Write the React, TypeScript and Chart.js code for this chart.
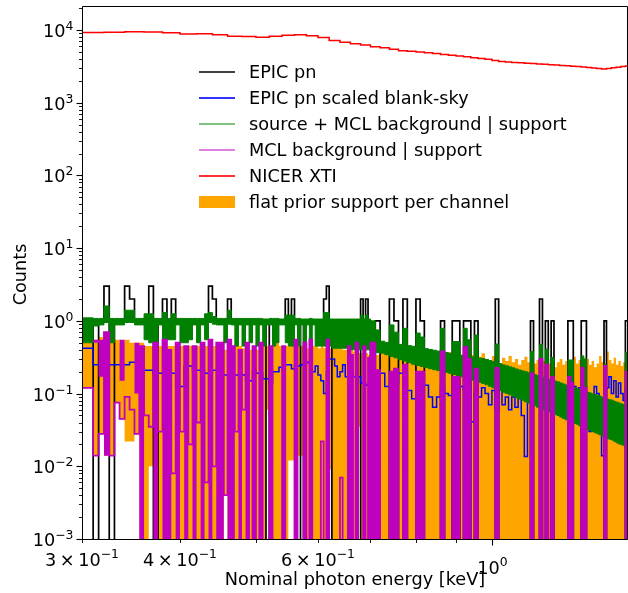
import React, { useEffect, useRef } from "react";
import { Chart, registerables } from "chart.js";

Chart.register(...registerables);

// ---------------- channel grids (keV) ----------------
const FINE_START = 0.3;
const FINE_STEP = 0.005;
const FINE_COUNT = 80; // 0.300 - 0.700
const COARSE_STEP = 0.01;
const COARSE_COUNT = 79; // 0.70 - 1.49
const NICER_START = 0.3;
const NICER_STEP = 0.02;

const X_MIN = 0.3;
const X_MAX = 1.4914;
const Y_MIN = 1e-3;
const Y_MAX = 21400;

// ---------------- data ----------------
// EPIC pn counts per channel
const EPIC_COUNTS = [
  1, 1, 0, 1, 3, 0, 1, 1, 3, 2, 1, 1, 1, 3, 0, 1, 2, 1, 2, 1,
  1, 1, 1, 1, 1, 1, 1, 3, 2, 1, 1, 1, 2, 1, 1, 1, 1, 1, 1, 1,
  1, 1, 1, 0, 1, 1, 1, 1, 1, 2, 1, 2, 1, 1, 0, 1, 1, 1, 1, 1,
  1, 1, 2, 3, 0, 1, 1, 1, 1, 1, 1, 1, 1, 1, 1, 0, 2, 1, 2, 1,
  0, 1, 0, 0, 2, 1, 0, 2, 0, 0, 2, 1, 0, 0, 0, 0, 1, 0, 0, 1,
  1, 0, 1, 1, 0, 1, 0, 0, 0, 0, 0, 2, 0, 0, 0, 0, 0, 0, 0, 0,
  0, 0, 1, 0, 0, 2, 0, 1, 0, 1, 0, 0, 0, 0, 0, 1, 1, 0, 0, 0,
  1, 1, 0, 0, 0, 0, 0, 0, 0, 1, 0, 0, 0, 0, 0, 0, 0, 0, 1,
];

// EPIC pn scaled blank-sky
const BLANK_SKY = [
  0.42, 0.42, 0.25, 0.25, 0.25, 0.25, 0.25, 0.25, 0.25, 0.27,
  0.27, 0.25, 0.21, 0.21, 0.19, 0.19, 0.19, 0.19, 0.19, 0.125,
  0.125, 0.24, 0.24, 0.21, 0.21, 0.21, 0.19, 0.19, 0.21, 0.21,
  0.18, 0.18, 0.18, 0.18, 0.18, 0.18, 0.18, 0.15, 0.15, 0.21,
  0.19, 0.19, 0.16, 0.16, 0.14, 0.2, 0.2, 0.23, 0.21, 0.25,
  0.25, 0.22, 0.24, 0.24, 0.25, 0.25, 0.27, 0.26, 0.2, 0.24,
  0.18, 0.15, 0.1, 0.2, 0.3, 0.3, 0.24, 0.17, 0.2, 0.25,
  0.17, 0.25, 0.2, 0.17, 0.17, 0.17, 0.14, 0.14, 0.13, 0.13,
  0.13, 0.125, 0.19, 0.125, 0.125, 0.14, 0.19, 0.19, 0.11, 0.085,
  0.08, 0.18, 0.13, 0.09, 0.065, 0.09, 0.125, 0.1, 0.094, 0.094,
  0.1, 0.125, 0.11, 0.125, 0.041, 0.11, 0.09, 0.12, 0.1, 0.07,
  0.11, 0.06, 0.12, 0.07, 0.09, 0.06, 0.09, 0.065, 0.1, 0.05,
  0.0136, 0.1, 0.14, 0.09, 0.12, 0.07, 0.11, 0.09, 0.15, 0.08,
  0.14, 0.1, 0.055, 0.08, 0.11, 0.09, 0.11, 0.125, 0.1, 0.12,
  0.09, 0.125, 0.1, 0.03, 0.05, 0.125, 0.1, 0.06, 0.014, 0.09,
  0.12, 0.17, 0.1, 0.15, 0.09, 0.14, 0.1, 0.08, 0.12,
];

// source + MCL background | support : upper and lower envelope
const SRC_MCL_HIGH = [
  1.1, 1.1, 1.08, 1.08, 1.6, 1.08, 1.08, 1.08, 1.4, 1.4,
  1.08, 1.08, 1.25, 1.25, 1.08, 1.08, 1.3, 1.08, 1.25, 1.08,
  1.08, 1.08, 1.08, 1.08, 1.08, 1.08, 1.25, 1.3, 1.15, 1.08,
  1.08, 1.08, 1.4, 1.08, 1.08, 1.08, 1.08, 1.08, 1.08, 1.08,
  1.08, 1.08, 1.06, 1.06, 1.08, 1.08, 1.08, 1.06, 1.06, 1.2,
  1.2, 1.2, 1.08, 1.08, 1.06, 1.06, 1.06, 1.08, 1.06, 1.06,
  1.06, 1.06, 1.3, 1.3, 1.06, 1.06, 1.06, 1.06, 1.06, 1.06,
  1.06, 1.06, 1.06, 1.06, 1.06, 1.06, 1.2, 1.06, 1.2, 1.06,
  1.0, 0.75, 0.525, 0.506, 0.88, 0.7, 0.475, 0.79, 0.456, 0.447,
  0.68, 0.6, 0.415, 0.404, 0.394, 0.384, 0.79, 0.368, 0.359, 0.52,
  0.52, 0.337, 0.79, 0.55, 0.318, 0.64, 0.308, 0.303, 0.294, 0.285,
  0.274, 0.48, 0.258, 0.248, 0.241, 0.233, 0.226, 0.218, 0.211, 0.205,
  0.2, 0.193, 0.38, 0.182, 0.177, 0.47, 0.167, 0.41, 0.157, 0.315,
  0.149, 0.145, 0.14, 0.1355, 0.131, 0.29, 0.29, 0.12, 0.118, 0.114,
  0.33, 0.3, 0.1045, 0.102, 0.099, 0.097, 0.094, 0.092, 0.089, 0.25,
  0.084, 0.082, 0.081, 0.078, 0.076, 0.074, 0.072, 0.071, 0.37,
];
const SRC_MCL_LOW = [
  0.5, 0.5, 0.85, 0.88, 0.95, 0.5, 0.88, 0.88, 0.95, 0.95,
  0.88, 0.88, 0.55, 0.5, 0.5, 0.88, 0.55, 0.55, 0.55, 0.88,
  0.5, 0.5, 0.55, 0.88, 0.5, 0.88, 0.55, 0.95, 0.9, 0.88,
  0.88, 0.5, 0.9, 0.88, 0.45, 0.88, 0.45, 0.88, 0.5, 0.88,
  0.45, 0.88, 0.45, 0.88, 0.88, 0.45, 0.5, 0.88, 0.88, 0.5,
  0.45, 0.45, 0.88, 0.45, 0.88, 0.45, 0.88, 0.45, 0.88, 0.45,
  0.45, 0.45, 0.45, 0.45, 0.45, 0.42, 0.42, 0.42, 0.42, 0.42,
  0.42, 0.42, 0.4, 0.4, 0.4, 0.4, 0.4, 0.4, 0.4, 0.4,
  0.37, 0.365, 0.36, 0.343, 0.324, 0.31, 0.293, 0.28, 0.265, 0.253,
  0.244, 0.236, 0.229, 0.22, 0.213, 0.207, 0.201, 0.196, 0.19, 0.183,
  0.176, 0.17, 0.164, 0.158, 0.153, 0.148, 0.143, 0.138, 0.132, 0.126,
  0.12, 0.115, 0.11, 0.1045, 0.1, 0.096, 0.092, 0.088, 0.084, 0.081,
  0.077, 0.074, 0.071, 0.068, 0.065, 0.063, 0.06, 0.058, 0.056, 0.053,
  0.052, 0.05, 0.0475, 0.0455, 0.0436, 0.0424, 0.0405, 0.039, 0.038, 0.036,
  0.035, 0.034, 0.032, 0.031, 0.03, 0.029, 0.028, 0.027, 0.026, 0.025,
  0.024, 0.0236, 0.023, 0.022, 0.021, 0.0203, 0.0198, 0.0193, 0.0184,
];

// MCL background | support : outline line, and solid (dense) part
const MCL_LINE = [
  0.12, 0.12, 0.014, 0.028, 0.7, 0.014, 0.075, 0.045, 0.09, 0.06,
  0.028, 0.45, 0.05, 0.035, 0.5, 0.03, 0.55, 0.4, 0.008, 0.5,
  0.03, 0.45, 0.02, 0.45, 0.04, 0.5, 0.006, 0.55, 0.01, 0.5,
  0.5, 0.004, 0.55, 0.45, 0.03, 0.4, 0.06, 0.5, 0, 0.45,
  0, 0.5, 0, 0, 0.45, 0, 0, 0, 0.45, 0,
  0, 0, 0.55, 0, 0, 0.5, 0, 0.55, 0, 0,
  0, 0.022, 0, 0.55, 0, 0, 0, 0, 0.007, 0,
  0, 0.45, 0.34, 0, 0.5, 0, 0, 0.45, 0, 0.31,
  0.5, 0.21, 0, 0, 0.2, 0.22, 0, 0.25, 0, 0,
  0.2, 0.2, 0, 0, 0, 0, 0.38, 0, 0, 0.17,
  0.17, 0, 0.44, 0.3, 0, 0.22, 0, 0, 0, 0,
  0, 0.225, 0, 0, 0, 0, 0, 0, 0, 0,
  0, 0, 0.19, 0, 0, 0.3, 0, 0.25, 0, 0.17,
  0, 0, 0, 0, 0, 0.17, 0.14, 0, 0, 0,
  0.225, 0.12, 0, 0, 0, 0, 0, 0, 0, 0.24,
  0, 0, 0, 0, 0, 0, 0, 0, 0.2,
];
const MCL_SOLID_HIGH = [
  0, 0, 0.55, 0.55, 0.7, 0, 0, 0.55, 0, 0,
  0.5, 0.45, 0, 0, 0.5, 0, 0.55, 0.4, 0, 0.5,
  0, 0.45, 0, 0.45, 0, 0.5, 0, 0.55, 0, 0.5,
  0.5, 0, 0.55, 0.45, 0, 0.4, 0, 0.5, 0, 0.45,
  0, 0.5, 0, 0, 0.45, 0, 0, 0, 0.45, 0,
  0, 0, 0.55, 0, 0, 0.5, 0, 0.55, 0, 0,
  0, 0, 0, 0.55, 0, 0, 0, 0, 0, 0,
  0, 0.45, 0.34, 0, 0.5, 0, 0, 0.45, 0, 0.31,
  0.5, 0.21, 0, 0, 0.2, 0.22, 0, 0.25, 0, 0,
  0.2, 0.2, 0, 0, 0, 0, 0.38, 0, 0, 0.17,
  0.17, 0, 0.44, 0.3, 0, 0.22, 0, 0, 0, 0,
  0, 0.225, 0, 0, 0, 0, 0, 0, 0, 0,
  0, 0, 0.19, 0, 0, 0.3, 0, 0.25, 0, 0.17,
  0, 0, 0, 0, 0, 0.17, 0.14, 0, 0, 0,
  0.225, 0.12, 0, 0, 0, 0, 0, 0, 0, 0.24,
  0, 0, 0, 0, 0, 0, 0, 0, 0.2,
];
const MCL_SOLID_LOW = [
  0, 0, 0.5, 0.17, 0.014, 0, 0, 0.15, 0, 0,
  0.1, 0, 0, 0, 0, 0, 0, 0, 0, 0,
  0, 0, 0, 0, 0, 0, 0, 0, 0, 0,
  0, 0, 0, 0, 0, 0, 0, 0, 0, 0,
  0, 0, 0, 0, 0, 0, 0, 0, 0, 0,
  0, 0, 0, 0, 0, 0, 0, 0, 0, 0,
  0, 0, 0, 0, 0, 0, 0, 0, 0, 0,
  0, 0, 0, 0, 0, 0, 0, 0, 0, 0,
  0, 0, 0, 0, 0, 0, 0, 0, 0, 0,
  0, 0, 0, 0, 0, 0, 0, 0, 0, 0,
  0, 0, 0, 0, 0, 0, 0, 0, 0, 0,
  0, 0, 0, 0, 0, 0, 0, 0, 0, 0,
  0, 0, 0, 0, 0, 0, 0, 0, 0, 0,
  0, 0, 0, 0, 0, 0, 0, 0, 0, 0,
  0, 0, 0, 0, 0, 0, 0, 0, 0, 0,
  0, 0, 0, 0, 0, 0, 0, 0, 0,
];

// flat prior support per channel : upper / lower bound
const PRIOR_HIGH = [
  0.5, 0.5, 0.55, 0.6, 0.7, 0.55, 0.55, 0.5, 0.55, 0.5,
  0.5, 0.5, 0.45, 0.45, 0.45, 0.45, 0.5, 0.45, 0.45, 0.45,
  0.45, 0.45, 0.45, 0.4, 0.45, 0.45, 0.45, 0.45, 0.45, 0.45,
  0.45, 0.4, 0.45, 0.4, 0.45, 0.45, 0.42, 0.42, 0.4, 0.42,
  0.4, 0.45, 0.5, 0.45, 0.45, 0.5, 0.55, 0.45, 0.45, 0.45,
  0.45, 0.5, 0.5, 0.45, 0.45, 0.45, 0.42, 0.5, 0.45, 0.45,
  0.42, 0.45, 0.42, 0.45, 0.42, 0.42, 0.45, 0.42, 0.42, 0.4,
  0.4, 0.45, 0.4, 0.38, 0.38, 0.36, 0.36, 0.36, 0.36, 0.34,
  0.38, 0.34, 0.4, 0.36, 0.33, 0.38, 0.35, 0.31, 0.37, 0.34,
  0.3, 0.36, 0.33, 0.38, 0.32, 0.35, 0.3, 0.34, 0.37, 0.31,
  0.33, 0.29, 0.35, 0.31, 0.34, 0.28, 0.32, 0.36, 0.3, 0.27,
  0.33, 0.29, 0.26, 0.31, 0.28, 0.33, 0.27, 0.3, 0.25, 0.29,
  0.32, 0.27, 0.3, 0.26, 0.29, 0.24, 0.28, 0.31, 0.26, 0.29,
  0.23, 0.27, 0.3, 0.25, 0.28, 0.24, 0.27, 0.32, 0.26, 0.29,
  0.24, 0.27, 0.3, 0.25, 0.28, 0.23, 0.26, 0.33, 0.27, 0.24,
  0.38, 0.29, 0.26, 0.31, 0.25, 0.28, 0.24, 0.27, 0.23,
];
const PRIOR_LOW = [
  0.12, 0.12, 0.014, 0.028, 0.014, 0.014, 0.075, 0.045, 0.022, 0.022,
  0.028, 0, 0, 0.01, 0, 0, 0, 0, 0, 0,
  0, 0, 0, 0, 0, 0, 0, 0, 0, 0,
  0, 0.004, 0, 0, 0, 0, 0, 0, 0, 0,
  0, 0, 0, 0.06, 0, 0, 0, 0, 0, 0,
  0.012, 0.012, 0, 0.014, 0.014, 0, 0, 0, 0, 0,
  0, 0, 0, 0, 0.009, 0, 0, 0, 0, 0,
  0, 0, 0, 0, 0, 0.035, 0, 0, 0, 0,
  0, 0, 0, 0, 0, 0, 0, 0, 0, 0,
  0, 0, 0, 0, 0, 0, 0, 0, 0, 0,
  0, 0, 0, 0, 0, 0, 0, 0, 0, 0,
  0, 0, 0, 0, 0, 0, 0, 0, 0, 0,
  0, 0, 0, 0, 0, 0, 0, 0, 0, 0,
  0, 0, 0, 0, 0, 0, 0, 0, 0, 0,
  0, 0, 0, 0, 0, 0, 0, 0, 0, 0,
  0, 0, 0, 0, 0, 0, 0, 0, 0,
];

// NICER XTI counts (20 eV channels from 0.30 keV)
const NICER_COUNTS = [
  9240, 9300, 9470, 9400, 9200, 8800, 8900, 8600, 8200, 8150,
  7950, 8200, 8500, 8600, 8350, 7900, 7200, 6800, 6500, 6200,
  5900, 5700, 5450, 5200, 5100, 5000, 4850, 4750, 4620, 4500,
  4400, 4280, 4150, 4050, 3950, 3800, 3680, 3620, 3580, 3540,
  3500, 3470, 3420, 3380, 3330, 3300, 3250, 3220, 3180, 3140,
  3100, 3050, 3000, 2950, 2900, 2950, 3020, 3080, 3150, 3200,
];

// ticks / labels
const Y_EXPONENTS = [-3, -2, -1, 0, 1, 2, 3, 4];
const X_MINOR_TICKS = [0.3, 0.4, 0.5, 0.6, 0.7, 0.8, 0.9];
const X_MAJOR_TICKS = [1.0];
const X_MINOR_LABELS = [
  { value: 0.3, mant: "3" },
  { value: 0.4, mant: "4" },
  { value: 0.6, mant: "6" },
];

const LEGEND_ITEMS = [
  { label: "EPIC pn", color: "#000000", kind: "line", width: 1.6 },
  { label: "EPIC pn scaled blank-sky", color: "#3333ff", kind: "line", width: 2 },
  { label: "source + MCL background | support", color: "#7fbf7f", kind: "line", width: 2 },
  { label: "MCL background | support", color: "#bf00bf", kind: "line", width: 1 },
  { label: "NICER XTI", color: "#ff3333", kind: "line", width: 2 },
  { label: "flat prior support per channel", color: "#ffa500", kind: "patch", width: 0 },
];

// ---------------- helpers ----------------
const FLOOR = 1e-7;
const FONT = '"DejaVu Sans", "Liberation Sans", sans-serif';
const BASE_PX = 17.7;
const SUP_PX = 12.4;
const SUP_RAISE = 7.5;

function buildEdges(): number[] {
  const e: number[] = [];
  for (let i = 0; i <= FINE_COUNT; i++) e.push(+(FINE_START + i * FINE_STEP).toFixed(4));
  const last = e[e.length - 1];
  for (let i = 1; i <= COARSE_COUNT; i++) e.push(+(last + i * COARSE_STEP).toFixed(4));
  return e;
}
const EDGES = buildEdges();
const NICER_EDGES: number[] = [];
for (let i = 0; i <= NICER_COUNTS.length; i++) NICER_EDGES.push(+(NICER_START + i * NICER_STEP).toFixed(4));

function steps(edges: number[], vals: number[]) {
  const pts = vals.map((v, i) => ({ x: edges[i], y: v > 0 ? v : FLOOR }));
  const lastV = vals[vals.length - 1];
  pts.push({ x: edges[vals.length], y: lastV > 0 ? lastV : FLOOR });
  return pts;
}

function drawMath(ctx: any, parts: [string, boolean][], x: number, baseline: number, align: string) {
  const widths = parts.map(([t, sup]) => {
    ctx.font = `${sup ? SUP_PX : BASE_PX}px ${FONT}`;
    return ctx.measureText(t).width;
  });
  const total = widths.reduce((a, b) => a + b, 0);
  let cx = align === "right" ? x - total : align === "center" ? x - total / 2 : x;
  parts.forEach(([t, sup], i) => {
    ctx.font = `${sup ? SUP_PX : BASE_PX}px ${FONT}`;
    ctx.fillText(t, cx, sup ? baseline - SUP_RAISE : baseline);
    cx += widths[i];
  });
}

const overlayPlugin = {
  id: "overlay",
  afterDraw(chart: any) {
    const { ctx, chartArea: a } = chart;
    const xs = chart.scales.x;
    const ys = chart.scales.y;
    ctx.save();
    ctx.fillStyle = "#000";
    ctx.strokeStyle = "#000";
    ctx.textBaseline = "alphabetic";
    ctx.textAlign = "left";

    // frame
    ctx.lineWidth = 1;
    const L = Math.round(a.left) + 0.5;
    const T = Math.round(a.top) + 0.5;
    const B = Math.round(a.bottom) + 0.5;
    const R = Math.round(a.right) - 0.5;
    ctx.beginPath();
    ctx.moveTo(L, T); ctx.lineTo(R, T);
    ctx.moveTo(L, B); ctx.lineTo(R, B);
    ctx.moveTo(L, T); ctx.lineTo(L, B);
    ctx.moveTo(R, T); ctx.lineTo(R, B);
    ctx.stroke();

    // y ticks
    Y_EXPONENTS.forEach((p) => {
      const y = Math.round(ys.getPixelForValue(Math.pow(10, p))) + 0.5;
      ctx.lineWidth = 1.1;
      ctx.beginPath(); ctx.moveTo(L - 6, y); ctx.lineTo(L, y); ctx.stroke();
      for (let m = 2; m <= 9; m++) {
        const v = m * Math.pow(10, p);
        if (v > Y_MAX) break;
        const ym = Math.round(ys.getPixelForValue(v)) + 0.5;
        ctx.lineWidth = 0.9;
        ctx.beginPath(); ctx.moveTo(L - 3.5, ym); ctx.lineTo(L, ym); ctx.stroke();
      }
      const expTxt = p < 0 ? "\u2212" + Math.abs(p) : String(p);
      drawMath(ctx, [["10", false], [expTxt, true]], L - 9, y + 6.5, "right");
    });

    // x ticks
    X_MINOR_TICKS.forEach((v) => {
      const x = Math.round(xs.getPixelForValue(v)) + 0.5;
      ctx.lineWidth = 0.9;
      ctx.beginPath(); ctx.moveTo(x, B); ctx.lineTo(x, B + 3.5); ctx.stroke();
    });
    X_MAJOR_TICKS.forEach((v) => {
      const x = Math.round(xs.getPixelForValue(v)) + 0.5;
      ctx.lineWidth = 1.1;
      ctx.beginPath(); ctx.moveTo(x, B); ctx.lineTo(x, B + 6); ctx.stroke();
      drawMath(ctx, [["10", false], ["0", true]], x, B + 34, "center");
    });
    X_MINOR_LABELS.forEach((l) => {
      const x = xs.getPixelForValue(l.value);
      drawMath(ctx, [[l.mant, false], ["\u2009\u00d7\u2009", false], ["10", false], ["\u22121", true]], x, B + 26, "center");
    });

    // axis titles
    ctx.font = `${BASE_PX}px ${FONT}`;
    ctx.textAlign = "center";
    ctx.fillText("Nominal photon energy [keV]", (a.left + a.right) / 2, 585);
    ctx.save();
    ctx.translate(26, (a.top + a.bottom) / 2 + 2);
    ctx.rotate(-Math.PI / 2);
    ctx.fillText("Counts", 0, 0);
    ctx.restore();

    // legend
    ctx.textAlign = "left";
    LEGEND_ITEMS.forEach((item, i) => {
      const yc = 72 + i * 26;
      if (item.kind === "patch") {
        ctx.fillStyle = item.color;
        ctx.fillRect(199, yc - 6, 36, 12);
      } else {
        ctx.strokeStyle = item.color;
        ctx.lineWidth = item.width;
        ctx.beginPath(); ctx.moveTo(199, yc); ctx.lineTo(235, yc); ctx.stroke();
      }
      ctx.fillStyle = "#000";
      ctx.font = `${BASE_PX}px ${FONT}`;
      ctx.fillText(item.label, 249, yc + 6);
    });
    ctx.restore();
  },
};

const TRANSPARENT = "rgba(0,0,0,0)";

function makeDatasets() {
  const base = { stepped: "before", pointRadius: 0, fill: false, tension: 0 };
  return [
    { ...base, label: "prior-low", data: steps(EDGES, PRIOR_LOW), borderWidth: 0, borderColor: TRANSPARENT, order: 9 },
    { ...base, label: "flat prior support per channel", data: steps(EDGES, PRIOR_HIGH), borderWidth: 0, borderColor: TRANSPARENT, backgroundColor: "#ffa500", fill: "-1", order: 8 },
    { ...base, label: "EPIC pn", data: steps(EDGES, EPIC_COUNTS), borderColor: "#000000", borderWidth: 1.7, order: 7 },
    { ...base, label: "EPIC pn scaled blank-sky", data: steps(EDGES, BLANK_SKY), borderColor: "#0000ff", borderWidth: 1.5, order: 6 },
    { ...base, label: "src-low", data: steps(EDGES, SRC_MCL_LOW), borderColor: "#008000", borderWidth: 1, order: 5 },
    { ...base, label: "source + MCL background | support", data: steps(EDGES, SRC_MCL_HIGH), borderColor: "#008000", borderWidth: 1, backgroundColor: "#008000", fill: "-1", order: 4 },
    { ...base, label: "mcl-low", data: steps(EDGES, MCL_SOLID_LOW), borderWidth: 0, borderColor: TRANSPARENT, order: 3 },
    { ...base, label: "mcl-high", data: steps(EDGES, MCL_SOLID_HIGH), borderWidth: 0, borderColor: TRANSPARENT, backgroundColor: "#bf00bf", fill: "-1", order: 2 },
    { ...base, label: "MCL background | support", data: steps(EDGES, MCL_LINE), borderColor: "#bf00bf", borderWidth: 1.8, order: 1 },
    { ...base, label: "NICER XTI", data: steps(NICER_EDGES, NICER_COUNTS), borderColor: "#ff0000", borderWidth: 1.5, order: 0 },
  ];
}

export default function App() {
  const canvasRef = useRef<HTMLCanvasElement | null>(null);

  useEffect(() => {
    const canvas = canvasRef.current;
    if (!canvas) return;
    const chart = new Chart(canvas, {
      type: "line",
      data: { datasets: makeDatasets() as any },
      options: {
        animation: false,
        responsive: false,
        maintainAspectRatio: false,
        events: [],
        layout: { padding: { top: 6, right: 0, left: 0, bottom: 0 } },
        plugins: { legend: { display: false }, tooltip: { enabled: false } },
        scales: {
          x: {
            type: "logarithmic",
            min: X_MIN,
            max: X_MAX,
            grid: { display: false },
            border: { display: false },
            ticks: { display: false },
            afterFit: (s: any) => { s.height = 54; },
          },
          y: {
            type: "logarithmic",
            min: Y_MIN,
            max: Y_MAX,
            grid: { display: false },
            border: { display: false },
            ticks: { display: false },
            afterFit: (s: any) => { s.width = 82; },
          },
        },
      } as any,
      plugins: [overlayPlugin as any],
    });
    return () => chart.destroy();
  }, []);

  return (
    <div style={{ position: "fixed", left: 0, top: 0, width: 628, height: 593, background: "#ffffff" }}>
      <canvas ref={canvasRef} width={628} height={593} style={{ display: "block", width: 628, height: 593 }} />
    </div>
  );
}
